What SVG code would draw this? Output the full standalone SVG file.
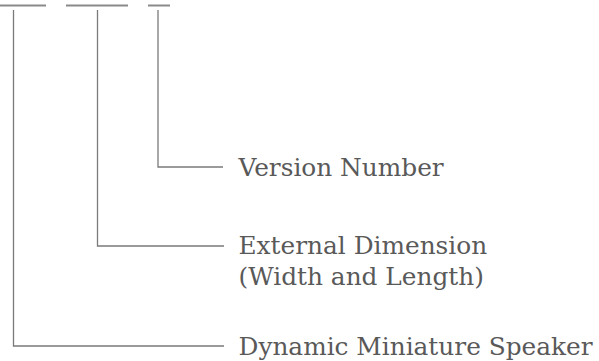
<svg xmlns="http://www.w3.org/2000/svg" width="599" height="361" viewBox="0 0 599 361">
<style>
.bar{stroke:#8a8a8a;stroke-width:2;fill:none}
.ln{stroke:#7a7a7a;stroke-width:1.3;fill:none}
.t{font-family:"DejaVu Serif",serif;font-size:24.8px;fill:#595959}
</style>
<rect width="599" height="361" fill="#ffffff"/>
<g id="bars">
<line class="bar" x1="0" y1="5.5" x2="46" y2="5.5"/>
<line class="bar" x1="66" y1="5.5" x2="128" y2="5.5"/>
<line class="bar" x1="148" y1="5.5" x2="170" y2="5.5"/>
</g>
<g id="connectors">
<polyline class="ln" points="158,10 158,167 223,167"/>
<polyline class="ln" points="97.5,10 97.5,246 224,246"/>
<polyline class="ln" points="13.5,10 13.5,346 224,346"/>
</g>
<g id="version"><text class="t" x="238.5" y="176">Version Number</text></g>
<g id="dimension"><text class="t" x="238.5" y="254">External Dimension</text><text class="t" x="238.5" y="284.5">(Width and Length)</text></g>
<g id="speaker"><text class="t" x="238.5" y="354.5">Dynamic Miniature Speaker</text></g>
</svg>
